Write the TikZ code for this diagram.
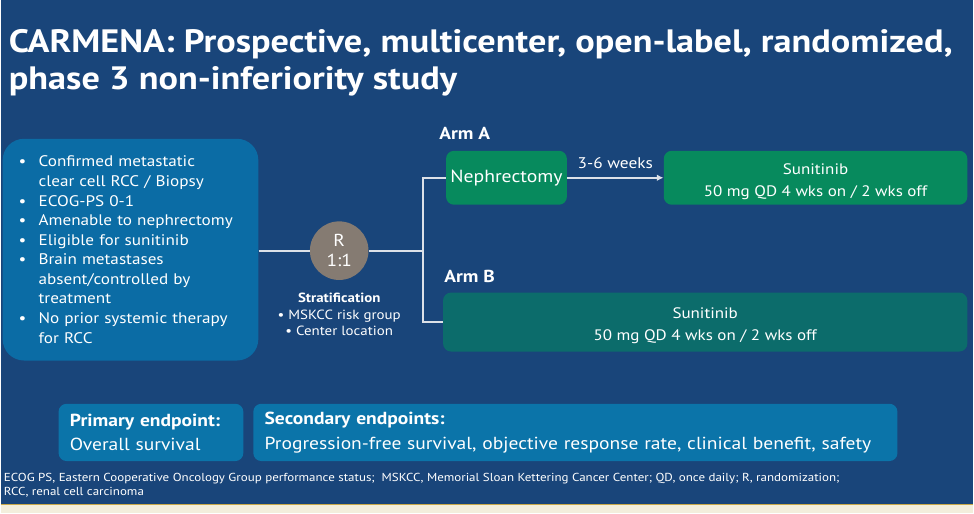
\documentclass[tikz,border=0pt]{standalone}
\usepackage{fontspec}
\setmainfont{PT Sans}[FakeStretch=1.12]
\usetikzlibrary{arrows.meta,positioning}
\definecolor{slidebg}{HTML}{19457A}
\definecolor{inclblue}{HTML}{0B6CA5}
\definecolor{endblue}{HTML}{0B74A9}
\definecolor{armgreen}{HTML}{078A5D}
\definecolor{armteal}{HTML}{0C6C6B}
\definecolor{rndgray}{HTML}{857B72}
\definecolor{linkgray}{HTML}{DCE1E8}
\definecolor{stripbeige}{HTML}{F3EEDC}
\definecolor{stripgold}{HTML}{C9A94A}
\newcommand{\bul}{\makebox[15pt][l]{•}}
\newcommand{\ind}{\hspace*{15pt}}
\newcommand{\dstrut}{\rule{0pt}{14pt}}

\begin{document}
\begin{tikzpicture}[x=0.75pt, y=-0.75pt, every node/.style={text=white, inner sep=0pt}, box/.style={rounded corners=6pt, align=center}, incl/.style={box, fill=inclblue, rounded corners=16pt, align=left, inner xsep=12pt, text width=168pt, minimum height=166.5pt}, armA/.style={box, fill=armgreen, minimum height=40.5pt}, armB/.style={box, fill=armteal, minimum height=44.25pt}, drug/.style={font=\fontsize{11.4}{16.5}\selectfont}, endp/.style={box, fill=endblue, align=left, inner xsep=8.5pt, minimum height=43pt, font=\fontsize{13.1}{18.5}\selectfont}, armlbl/.style={font=\fontsize{13}{15}\selectfont\bfseries}, link/.style={draw=linkgray, line width=1.5pt}, arr/.style={link, -{Latex[length=5pt,width=5pt]}}]
\fill[slidebg] (0,0) rectangle (974,514);
\fill[stripbeige] (0,505) rectangle (974,514);
\draw[stripgold, line width=1pt] (0,505.5) -- (974,505.5);
\useasboundingbox (0,0) rectangle (974,514);

% title
\node[anchor=north west, align=left, font=\fontsize{24.3}{28}\selectfont\bfseries] (title) at (8,29) {CARMENA: Prospective, multicenter, open-label, randomized,\\phase 3 non-inferiority study};

% inclusion criteria
\node[incl, font=\fontsize{11.5}{14.7}\selectfont] (crit) at (130,250) {\bul Confirmed metastatic\\\ind clear cell RCC / Biopsy\\\bul ECOG-PS 0-1\\\bul Amenable to nephrectomy\\\bul Eligible for sunitinib\\\bul Brain metastases\\\ind absent/controlled by\\\ind treatment\\\bul No prior systemic therapy\\\ind for RCC};

% randomisation
\node[circle, fill=rndgray, minimum size=44pt, align=center, font=\fontsize{13}{15}\selectfont] (rnd) at (339,251) {R\\1:1};
\node[below=9.5pt of rnd, align=center, font=\fontsize{10}{12.4}\selectfont] (strat) {\textbf{Stratification}\\• MSKCC risk group\\• Center location};
\coordinate (split) at (423,251);

% arms
\node[armA, minimum width=90.75pt, font=\fontsize{13.2}{15}\selectfont] (neph) at (506.5,178) {Nephrectomy};
\node[armA, minimum width=228pt, drug] (suna) at (816,178) {\dstrut Sunitinib\\50 mg QD 4 wks on / 2 wks off};
\node[armB, minimum width=393.75pt, drug] (sunb) at (705.5,322.5) {\dstrut Sunitinib\\50 mg QD 4 wks on / 2 wks off};
\node[armlbl, anchor=south west] (lbla) at ([xshift=-5pt,yshift=8pt]neph.north west) {Arm A};
\node[armlbl, anchor=south west] (lblb) at ([xshift=1pt,yshift=7pt]sunb.north west) {Arm B};

\draw[link] (crit.east |- rnd) -- (rnd.west);
\draw[link] (rnd.east) -- (split);
\draw[link] (split) |- (neph.west);
\draw[link] (split) |- (sunb.west);
\draw[arr] (neph.east) -- (suna.west) node[midway, above=6pt, font=\fontsize{11.6}{13}\selectfont] (wks) {3-6 weeks};

% endpoints
\node[endp, text width=121.75pt] (prim) at (150.5,433) {\textbf{Primary endpoint:}\\Overall survival};
\node[endp, text width=466.75pt] (sec) at (575.5,433) {\textbf{Secondary endpoints:}\\Progression-free survival, objective response rate, clinical benefit, safety};

% footnote
\node[anchor=north west, align=left, font=\fontsize{8.7}{10.2}\selectfont] (abbr) at (3,474) {ECOG PS, Eastern Cooperative Oncology Group performance status;\ \ MSKCC, Memorial Sloan Kettering Cancer Center; QD, once daily; R, randomization;\\RCC, renal cell carcinoma};
\end{tikzpicture}
\end{document}
